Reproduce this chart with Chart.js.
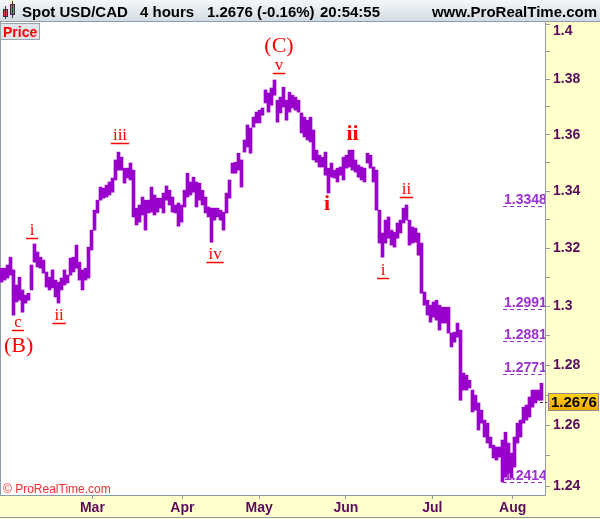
<!DOCTYPE html>
<html>
<head>
<meta charset="utf-8">
<script src="https://cdn.jsdelivr.net/npm/chart.js@4.4.0/dist/chart.umd.min.js"></script>
<style>
  html, body { margin: 0; padding: 0; background: #fff; }
  #wrap { width: 600px; height: 519px; }
</style>
</head>
<body>
<div id="wrap"><canvas id="chart" width="600" height="519"></canvas></div>
<script>
// USD/CAD 4h bars, one slot ~ one day, each slot = [low, high]
const barHigh = [
  1.3131,1.3131,1.3142,1.3169,1.3125,1.3073,1.3100,1.3056,1.3039,1.3045,
  1.3142,1.3215,1.3187,1.3169,1.3159,1.3118,1.3100,1.3125,1.3090,1.3083,
  1.3097,1.3125,1.3107,1.3166,1.3169,1.3211,1.3152,1.3125,1.3131,1.3204,
  1.3263,1.3333,1.3368,1.3414,1.3410,1.3421,1.3432,1.3446,1.3510,1.3538,
  1.3520,1.3481,1.3481,1.3499,1.3474,1.3340,1.3351,1.3379,1.3368,1.3368,
  1.3414,1.3386,1.3375,1.3375,1.3393,1.3418,1.3403,1.3379,1.3351,1.3358,
  1.3351,1.3403,1.3463,1.3432,1.3449,1.3432,1.3428,1.3403,1.3379,1.3344,
  1.3340,1.3340,1.3340,1.3333,1.3326,1.3393,1.3439,1.3499,1.3502,1.3534,
  1.3510,1.3581,1.3635,1.3624,1.3663,1.3681,1.3688,1.3696,1.3761,1.3750,
  1.3768,1.3797,1.3724,1.3735,1.3771,1.3724,1.3753,1.3742,1.3735,1.3724,
  1.3678,1.3663,1.3652,1.3663,1.3617,1.3545,1.3527,1.3520,1.3538,1.3481,
  1.3499,1.3474,1.3481,1.3485,1.3520,1.3527,1.3545,1.3545,1.3510,1.3492,
  1.3485,1.3481,1.3534,1.3527,1.3485,1.3474,1.3333,1.3253,1.3298,1.3309,
  1.3263,1.3256,1.3288,1.3298,1.3340,1.3351,1.3298,1.3274,1.3270,1.3253,
  1.3218,1.3049,1.3021,1.3004,1.3015,1.3021,1.3004,1.2997,1.2997,1.2997,
  1.2909,1.2912,1.2943,1.2919,1.2774,1.2767,1.2750,1.2717,1.2700,1.2674,
  1.2650,1.2617,1.2607,1.2561,1.2534,1.2528,1.2528,1.2551,1.2577,1.2541,
  1.2508,1.2561,1.2607,1.2617,1.2660,1.2667,1.2694,1.2717,1.2717,1.2717,1.2740
];
const barLow = [
  1.3083,1.3090,1.3097,1.3107,1.2970,1.3015,1.3021,1.2980,1.3011,1.3021,
  1.3056,1.3152,1.3135,1.3131,1.3114,1.3066,1.3056,1.3063,1.3032,1.3011,
  1.3056,1.3073,1.3080,1.3107,1.3118,1.3131,1.3090,1.3056,1.3090,1.3097,
  1.3194,1.3263,1.3323,1.3368,1.3375,1.3379,1.3386,1.3396,1.3439,1.3474,
  1.3474,1.3428,1.3446,1.3439,1.3309,1.3281,1.3291,1.3316,1.3263,1.3323,
  1.3326,1.3316,1.3326,1.3340,1.3323,1.3368,1.3351,1.3326,1.3323,1.3277,
  1.3291,1.3344,1.3379,1.3386,1.3396,1.3344,1.3368,1.3351,1.3323,1.3309,
  1.3221,1.3298,1.3309,1.3298,1.3263,1.3323,1.3375,1.3463,1.3463,1.3474,
  1.3414,1.3538,1.3556,1.3534,1.3627,1.3642,1.3642,1.3670,1.3714,1.3681,
  1.3706,1.3742,1.3645,1.3678,1.3699,1.3652,1.3681,1.3696,1.3688,1.3681,
  1.3606,1.3592,1.3581,1.3574,1.3510,1.3502,1.3485,1.3485,1.3456,1.3393,
  1.3449,1.3446,1.3432,1.3456,1.3439,1.3481,1.3485,1.3474,1.3467,1.3449,
  1.3439,1.3432,1.3499,1.3481,1.3432,1.3333,1.3218,1.3169,1.3218,1.3235,
  1.3211,1.3204,1.3235,1.3253,1.3288,1.3298,1.3211,1.3218,1.3221,1.3176,
  1.3045,1.3004,1.2970,1.2946,1.2963,1.2953,1.2919,1.2943,1.2943,1.2909,
  1.2862,1.2878,1.2895,1.2683,1.2717,1.2717,1.2724,1.2644,1.2650,1.2584,
  1.2607,1.2561,1.2541,1.2525,1.2492,1.2485,1.2495,1.2413,1.2429,1.2442,
  1.2426,1.2462,1.2541,1.2561,1.2607,1.2617,1.2627,1.2660,1.2674,1.2683,1.2683
];

const monthLabels = ['Mar', 'Apr', 'May', 'Jun', 'Jul', 'Aug'];
const monthSlots  = [30.3, 60.3, 85.9, 114.8, 143.6, 170.4];
const priceTicks  = [1.24,1.25,1.26,1.27,1.28,1.29,1.30,1.31,1.32,1.33,1.34,1.35,1.36,1.37,1.38,1.39,1.40];

const levelValues = [1.3348, 1.2991, 1.2881, 1.2771, 1.2414];
const lastPrice   = 1.2676;

// Elliott wave counts, anchored at slot / price (text baseline)
const waveText  = ['(C)', 'v', 'iii', 'i', 'ii', 'c', '(B)', 'iv', 'i', 'ii', 'ii', 'i'];
const waveSlot  = [92.5, 92.5, 39.5, 10.2, 19.2, 5.5, 5.7, 71.2, 108.5, 117.0, 135.0, 127.2];
const wavePrice = [1.3899, 1.3833, 1.3581, 1.3246, 1.2953, 1.2929, 1.2845, 1.3163, 1.3333, 1.3581, 1.3389, 1.3107];
const waveKind  = ['big', 'under', 'under', 'under', 'under', 'under', 'big', 'under', 'bold', 'bold', 'under', 'under'];

const SANS  = '"Liberation Sans", Arial, sans-serif';
const SERIF = '"Liberation Serif", "Times New Roman", serif';
const AXIS_TXT = '#5c0a5c';

const waveFonts = {
  big:   '22px ' + SERIF,
  under: '17px ' + SERIF,
  bold:  'bold 22px ' + SERIF
};

const chromePlugin = {
  id: 'chrome',
  beforeDraw(chart) {
    const { ctx, chartArea: a, width, height } = chart;
    ctx.save();
    ctx.fillStyle = '#fff';
    ctx.fillRect(0, 0, width, height);
    ctx.fillStyle = '#ffffcc';
    ctx.fillRect(a.right, a.top, width - a.right, height - a.top);
    ctx.fillRect(0, a.bottom, width, height - a.bottom);

    // header bar
    const g = ctx.createLinearGradient(0, 0, 0, a.top);
    g.addColorStop(0, '#f3f7fa');
    g.addColorStop(1, '#d2dbe2');
    ctx.fillStyle = g;
    ctx.fillRect(0, 0, width, a.top);
    ctx.strokeStyle = '#8f9ca7';
    ctx.lineWidth = 1;
    ctx.beginPath();
    ctx.moveTo(0, a.top - 0.5); ctx.lineTo(width, a.top - 0.5);
    ctx.moveTo(0, height - 1.5); ctx.lineTo(width, height - 1.5);
    ctx.moveTo(0.5, a.top); ctx.lineTo(0.5, a.bottom);
    ctx.stroke();
    ctx.restore();
  },
  beforeDatasetsDraw(chart) {
    const { ctx, chartArea: a } = chart;
    const y = chart.scales.y;
    ctx.save();
    ctx.beginPath();
    ctx.rect(a.left, a.top, a.right - a.left, a.bottom - a.top);
    ctx.clip();
    ctx.strokeStyle = '#9933cc';
    ctx.fillStyle = '#9933cc';
    ctx.lineWidth = 1.2;
    ctx.setLineDash([4, 3]);
    ctx.font = 'bold 14px ' + SANS;
    ctx.textBaseline = 'alphabetic';
    levelValues.forEach(v => {
      const py = Math.round(y.getPixelForValue(v)) + 0.5;
      ctx.beginPath();
      ctx.moveTo(a.right - 42, py);
      ctx.lineTo(a.right, py);
      ctx.stroke();
      ctx.fillText(v.toFixed(4), a.right - 41, py - 3);
    });
    ctx.restore();
  },
  afterDraw(chart) {
    const { ctx, chartArea: a, width } = chart;
    const xs = chart.scales.x, ys = chart.scales.y;
    ctx.save();

    // header icon
    ctx.fillStyle = '#e04040';
    ctx.fillRect(3, 9, 5, 8);
    ctx.fillStyle = '#30c030';
    ctx.fillRect(10, 4, 5, 11);
    ctx.strokeStyle = '#333';
    ctx.lineWidth = 1;
    ctx.beginPath();
    ctx.moveTo(5.5, 6); ctx.lineTo(5.5, 19);
    ctx.moveTo(12.5, 1); ctx.lineTo(12.5, 18);
    ctx.stroke();
    ctx.strokeRect(3.5, 9.5, 4, 7);
    ctx.strokeRect(10.5, 4.5, 4, 10);

    // header texts
    ctx.fillStyle = '#000';
    ctx.font = 'bold 15px ' + SANS;
    ctx.textBaseline = 'alphabetic';
    ctx.textAlign = 'left';
    ctx.fillText('Spot USD/CAD', 22, 17);
    ctx.fillText('4 hours', 140, 17);
    ctx.fillText('1.2676 (-0.16%)', 207, 17);
    ctx.fillText('20:54:55', 320, 17);
    ctx.textAlign = 'right';
    ctx.fillText('www.ProRealTime.com', width - 3, 17);

    // "Price" tag
    ctx.fillStyle = '#e1e5e9';
    ctx.fillRect(0, a.top + 1, 40, 17);
    ctx.strokeStyle = '#9aa5ae';
    ctx.strokeRect(0.5, a.top + 1.5, 39, 16);
    ctx.fillStyle = '#ff0000';
    ctx.font = 'bold 14px ' + SANS;
    ctx.textAlign = 'left';
    ctx.fillText('Price', 3, a.top + 15);

    // copyright
    ctx.font = '12px ' + SANS;
    ctx.fillStyle = '#f03030';
    ctx.fillText('\u00a9 ProRealTime.com', 3, a.bottom - 2);

    // wave labels
    ctx.fillStyle = '#ff0000';
    ctx.strokeStyle = '#ff0000';
    ctx.lineWidth = 1.5;
    ctx.textAlign = 'center';
    waveText.forEach((t, i) => {
      const px = xs.getPixelForValue(waveSlot[i]);
      const py = ys.getPixelForValue(wavePrice[i]);
      ctx.font = waveFonts[waveKind[i]];
      ctx.fillText(t, px, py);
      if (waveKind[i] === 'under') {
        const w = Math.max(ctx.measureText(t).width, 8);
        ctx.beginPath();
        ctx.moveTo(px - w / 2 - 2, Math.round(py) + 3.5);
        ctx.lineTo(px + w / 2 + 2, Math.round(py) + 3.5);
        ctx.stroke();
      }
    });

    // top axis label, pushed down inside the axis
    ctx.font = 'bold 14px ' + SANS;
    ctx.fillStyle = AXIS_TXT;
    ctx.textAlign = 'left';
    ctx.textBaseline = 'middle';
    ctx.fillText('1.4', a.right + 8, a.top + 9);

    // last price box
    const py = Math.round(ys.getPixelForValue(lastPrice));
    ctx.strokeStyle = '#552255';
    ctx.lineWidth = 1;
    ctx.setLineDash([3, 2]);
    ctx.beginPath();
    ctx.moveTo(a.right - 5, py + 0.5); ctx.lineTo(a.right + 2, py + 0.5);
    ctx.stroke();
    ctx.setLineDash([]);
    const bg = ctx.createLinearGradient(0, py - 9, 0, py + 9);
    bg.addColorStop(0, '#ffd21a');
    bg.addColorStop(1, '#f0a800');
    ctx.fillStyle = bg;
    ctx.fillRect(a.right + 3, py - 9, 51, 18);
    ctx.strokeStyle = '#8a8a8a';
    ctx.strokeRect(a.right + 3.5, py - 8.5, 50, 17);
    ctx.fillStyle = '#000';
    ctx.font = 'bold 15px ' + SANS;
    ctx.fillText(lastPrice.toFixed(4), a.right + 6, py + 1);

    ctx.restore();
  }
};

new Chart(document.getElementById('chart'), {
  type: 'bar',
  data: {
    datasets: [{
      data: barHigh.map((h, i) => ({ x: i, y: [barLow[i], h] })),
      backgroundColor: '#9900cc',
      borderWidth: 0,
      borderSkipped: false,
      barPercentage: 1,
      categoryPercentage: 1
    }]
  },
  options: {
    responsive: false,
    animation: false,
    devicePixelRatio: 1,
    layout: { padding: { top: 22, left: 0, right: 0, bottom: 0 } },
    plugins: { legend: { display: false }, tooltip: { enabled: false } },
    scales: {
      x: {
        type: 'linear',
        min: -0.5,
        max: 181.17,
        offset: false,
        bounds: 'data',
        afterFit(s) { s.height = 24; },
        afterBuildTicks(s) { s.ticks = monthSlots.map(v => ({ value: v })); },
        grid: { drawOnChartArea: false, drawTicks: true, tickLength: 4, color: '#8f9ca7', offset: false },
        border: { display: true, color: '#8f9ca7' },
        ticks: {
          autoSkip: false,
          maxRotation: 0,
          padding: 1,
          color: AXIS_TXT,
          font: { family: SANS, weight: 'bold', size: 14 },
          callback: (v, i) => monthLabels[i]
        }
      },
      y: {
        type: 'logarithmic',
        position: 'right',
        min: 1.2371,
        max: 1.4009,
        bounds: 'data',
        afterFit(s) { s.width = 55; },
        afterBuildTicks(s) { s.ticks = priceTicks.map(v => ({ value: v })); },
        grid: { drawOnChartArea: false, drawTicks: true, tickLength: 5, color: '#8f9ca7' },
        border: { display: true, color: '#8f9ca7' },
        ticks: {
          padding: 3,
          color: AXIS_TXT,
          font: { family: SANS, weight: 'bold', size: 14 },
          callback: v => {
            const c = Math.round(v * 100);
            return (c % 2 === 0 && c < 140) ? String(c / 100) : '';
          }
        }
      }
    }
  },
  plugins: [chromePlugin]
});
</script>
</body>
</html>
